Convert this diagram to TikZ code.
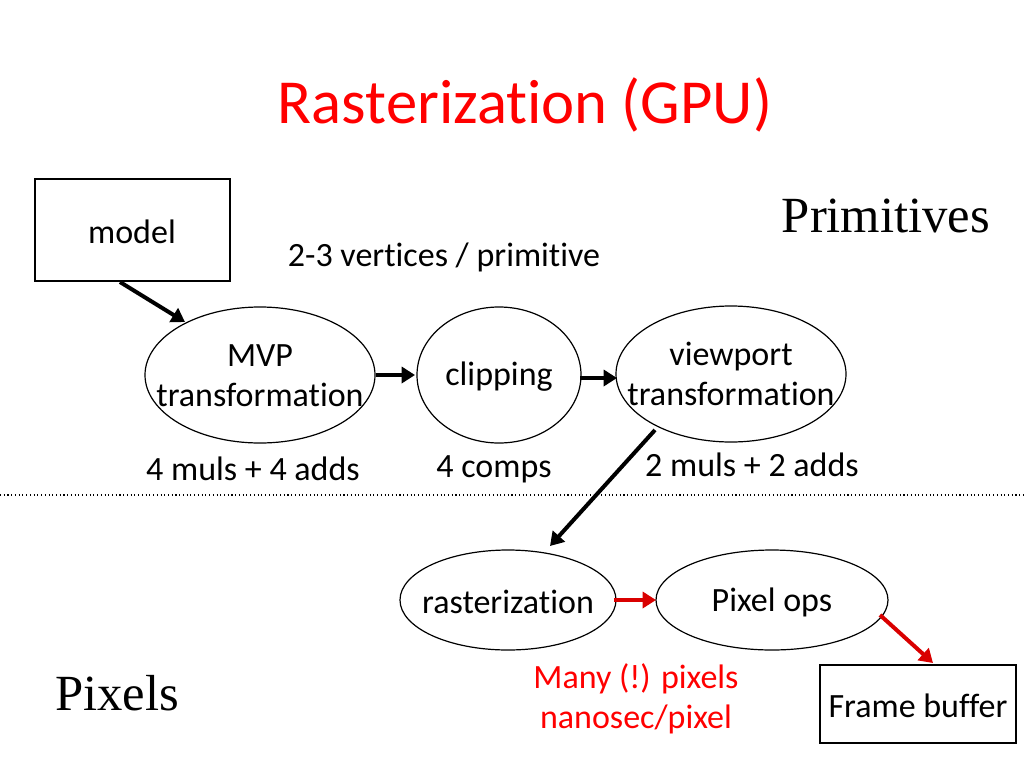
\documentclass[tikz,border=0pt]{standalone}
\usepackage{fontspec}
\setmainfont{Carlito}[Ligatures=CommonOff]
\newfontfamily\seriffont{Liberation Serif}
\usetikzlibrary{arrows.meta}
\begin{document}
\begin{tikzpicture}[x=0.75pt,y=-0.75pt,
  txt/.style={font=\fontsize{25.5}{30}\selectfont,inner sep=0},
  ell/.style={draw,line width=0.9pt},
  box/.style={draw,line width=0.9pt},
  arr/.style={line width=3pt,-{Triangle[length=10pt,width=12pt]}},
  rarr/.style={arr,red!85!black}]
\useasboundingbox (0,0) rectangle (1024,768);
\node[txt,red,font=\fontsize{47}{52}\selectfont] (title) at (525,105) {Rasterization (GPU)};
\draw[box] (35,179) rectangle (230,281);
\node[txt] (model) at (132,232) {model};
\coordinate (ms) at (120,282);
\node[txt] (verts) at (444,257) {2-3 vertices / primitive};
\node[txt,font=\seriffont\fontsize{38}{44}\selectfont] (prim) at (886,216) {Primitives};
\node[txt,font=\seriffont\fontsize{38}{44}\selectfont] (pix) at (117,693) {Pixels};
\draw[ell] (260,375) ellipse [x radius=115,y radius=68];
\node[txt,align=center] (mvp) at (260,376) {MVP\\transformation};
\draw[ell] (499,375) ellipse [x radius=82,y radius=68];
\node[txt] (clip) at (499,377) {clipping};
\draw[ell] (731,374) ellipse [x radius=115,y radius=68];
\node[txt,align=center] (vp) at (731,374) {viewport\\transformation};
\draw[ell] (508,600) ellipse [x radius=108,y radius=50];
\node[txt] (rast) at (508,602) {rasterization};
\draw[ell] (772,600) ellipse [x radius=116,y radius=50];
\node[txt] (pops) at (772,602) {Pixel ops};
\draw[box] (820,665) rectangle (1016,743);
\node[txt] (fb) at (918,706) {Frame buffer};
\node[txt] (l1) at (253,469) {4 muls + 4 adds};
\node[txt] (l2) at (494,469) {4 comps};
\node[txt] (l3) at (752,465) {2 muls + 2 adds};
\node[txt,red,align=center] (many) at (636,699) {Many (!) pixels\\nanosec/pixel};
\draw[dotted,line width=0.8pt] (0,495) -- (1024,495);
\coordinate (me) at (185,322);
\draw[arr] (ms) -- (me);
\coordinate (a1) at (376,375); \coordinate (a2) at (415,375);
\draw[arr] (a1) -- (a2);
\coordinate (b1) at (580,378); \coordinate (b2) at (617,378);
\draw[arr] (b1) -- (b2);
\coordinate (c1) at (655,430); \coordinate (c2) at (550,546);
\draw[arr] (c1) -- (c2);
\coordinate (d1) at (614,600); \coordinate (d2) at (656,600);
\draw[rarr] (d1) -- (d2);
\coordinate (e1) at (880,615); \coordinate (e2) at (933,663);
\draw[rarr] (e1) -- (e2);
\end{tikzpicture}
\end{document}
